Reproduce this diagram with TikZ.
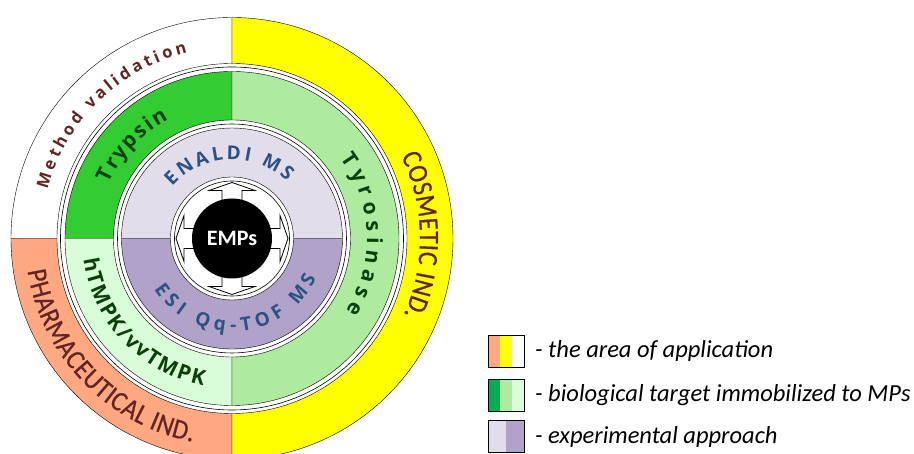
\documentclass[tikz,border=0pt]{standalone}
\usepackage{fontspec}
\setmainfont{Carlito}
\newfontfamily\ringfont{Open Sans}
\newfontfamily\capsfont[FakeStretch=0.9, FakeBold=0.6]{Carlito}
\usepackage{tikz}
\usetikzlibrary{decorations.text, positioning}

\definecolor{salmon}{HTML}{FFA882}
\definecolor{lemon}{HTML}{FFFF00}
\definecolor{trypgreen}{HTML}{33CC33}
\definecolor{tyrogreen}{HTML}{AEEB9F}
\definecolor{mint}{HTML}{D9FCD9}
\definecolor{lilac}{HTML}{E2DDEA}
\definecolor{mauve}{HTML}{B0A2C8}
\definecolor{leggreen}{HTML}{00B050}
\definecolor{wine}{HTML}{632523}
\definecolor{forest}{HTML}{0B400B}
\definecolor{navy}{HTML}{2B5283}

\tikzset{x=1pt, y=1pt, line width=0.7pt,
  part/.style={draw=black, fill=#1},
  gap/.style={draw=black, line width=0.6pt},
  swatch/.style={minimum width=12pt, minimum height=32pt, inner sep=0pt, outer sep=0pt},
  legend text/.style={font=\fontsize{24.5}{24.5}\selectfont\itshape, anchor=west, inner sep=0pt}}

% one piece of a ring: colour, start angle, end angle, outer and inner radius
\newcommand{\ringpart}[5]{\path[part=#1] (#2:#4) arc (#2:#3:#4) -- (#3:#5) arc (#3:#2:#5) -- cycle;}
% text bent round a ring between two angles (path runs 4pt longer so the last letter is kept)
\newcommand{\bendtext}[5]{%
  \pgfmathsetmacro{\bendend}{#2+sign(#2-#1)*229.2/#3}%
  \path[decorate, decoration={text along path, text align={fit to path, right indent=4pt},
    text={|#5|#4}}] (#1:#3) arc (#1:\bendend:#3);}
\newcommand{\outerfont}{\capsfont\fontsize{28}{28}\selectfont\color{wine}}
\newcommand{\greenfont}{\ringfont\bfseries\fontsize{21}{21}\selectfont\color{forest}}
\newcommand{\bluefont}{\ringfont\bfseries\fontsize{19}{19}\selectfont\color{navy}}

\begin{document}
\begin{tikzpicture}
  \useasboundingbox (-232,-215.5) rectangle (682,238.5);
  \def \ro {221} \def \ri {175}     % application ring
  \def \go {167} \def \gi {118.5}   % target ring
  \def \lo {110.5} \def \li {61.5}  % approach ring

  % area of application
  \ringpart{white}{90}{180}{\ro}{\ri}
  \ringpart{salmon}{180}{270}{\ro}{\ri}
  \ringpart{lemon}{-90}{90}{\ro}{\ri}
  \draw[gap] (0,0) circle (171.5);

  % biological targets
  \ringpart{trypgreen}{90}{180}{\go}{\gi}
  \ringpart{mint}{180}{270}{\go}{\gi}
  \ringpart{tyrogreen}{-90}{90}{\go}{\gi}
  \draw[gap] (0,0) circle (114.5);

  % experimental approach
  \ringpart{lilac}{0}{180}{\lo}{\li}
  \ringpart{mauve}{180}{360}{\lo}{\li}
  \draw[gap, fill=white] (0,0) circle (57.5);

  % four-way arrow behind the particle
  \draw[fill=white, line width=0.8pt] (10,10) -- (48,10) -- (48,23) -- (56,0) -- (48,-23) -- (48,-10)
    -- (10,-10) -- (10,-48) -- (23,-48) -- (0,-56) -- (-23,-48) -- (-10,-48)
    -- (-10,-10) -- (-48,-10) -- (-48,-23) -- (-56,0) -- (-48,23) -- (-48,10)
    -- (-10,10) -- (-10,48) -- (-23,48) -- (0,56) -- (23,48) -- (10,48) -- cycle;
  \node[circle, fill=black, minimum size=80pt, inner sep=0pt, text=white,
    font=\bfseries\fontsize{22}{22}\selectfont] (emps) at (0,0) {EMPs};

  % ring labels
  \bendtext{165}{103.5}{191}{Method validation}{\ringfont\bfseries\fontsize{16.5}{16.5}\selectfont\color{wine}}
  \bendtext{26}{-24}{188}{COSMETIC IND.}{\outerfont}
  \bendtext{189}{259}{207}{PHARMACEUTICAL IND.}{\outerfont}
  \bendtext{156}{118}{135}{Trypsin}{\greenfont}
  \bendtext{36.5}{-32.5}{135}{Tyrosinase}{\greenfont}
  \bendtext{188}{259}{150}{hTMPK/vvTMPK}{\greenfont}
  \bendtext{139}{46}{79}{ENALDI MS}{\bluefont}
  \bendtext{213}{335}{93}{ESI Qq-TOF MS}{\bluefont}

  % legend
  \node[swatch, fill=salmon] (area1) at (262,-112.5) {};
  \node[swatch, fill=lemon, right=0pt of area1] (area2) {};
  \node[swatch, fill=white, right=0pt of area2] (area3) {};
  \draw (area1.north west) rectangle (area3.south east);
  \node[legend text, right=11pt of area3] (area) {- the area of application};

  \node[swatch, fill=leggreen] (target1) at (262,-156.5) {};
  \node[swatch, fill=tyrogreen, right=0pt of target1] (target2) {};
  \node[swatch, fill=mint, right=0pt of target2] (target3) {};
  \draw (target1.north west) rectangle (target3.south east);
  \node[legend text, right=11pt of target3] (target) {- biological target immobilized to MPs};

  \node[swatch, minimum width=18pt, fill=lilac] (method1) at (265,-198) {};
  \node[swatch, minimum width=18pt, fill=mauve, right=0pt of method1] (method2) {};
  \draw (method1.north west) rectangle (method2.south east);
  \node[legend text, right=11pt of method2] (method) {- experimental approach};
\end{tikzpicture}
\end{document}
